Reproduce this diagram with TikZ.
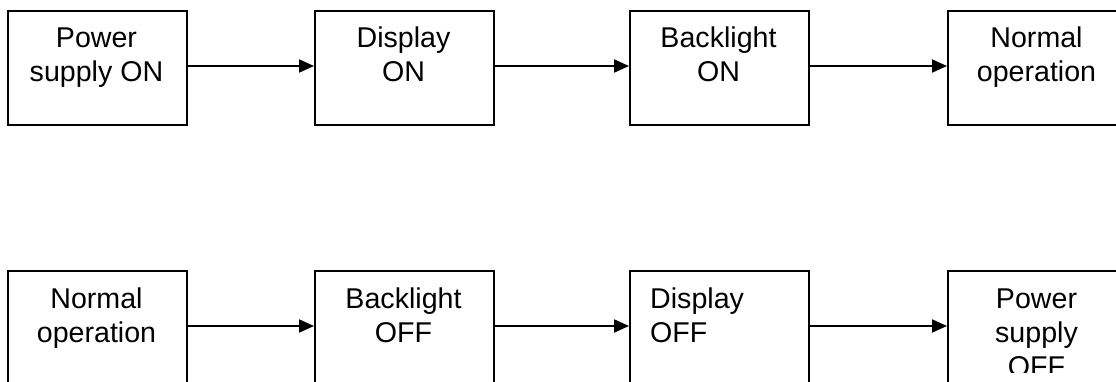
\documentclass[tikz,border=0pt]{standalone}
\usepackage{fontspec}
\setmainfont{Liberation Sans}
\usetikzlibrary{arrows.meta}
\begin{document}
\begin{tikzpicture}[x=1pt,y=-1pt,
  box/.style={draw,line width=2pt,minimum width=179pt,minimum height=114pt,inner sep=0pt,anchor=north west},
  lbl/.style={align=center,font=\fontsize{28.6}{34}\selectfont,inner sep=0pt,anchor=base},
  lbll/.style={align=left,font=\fontsize{28.6}{34}\selectfont,inner sep=0pt,anchor=base west},
  flow/.style={line width=2pt,-{Triangle[length=15pt,width=13pt]}}]
\useasboundingbox (0,0) rectangle (1116,382);
\clip (0,0) rectangle (1116,382);
% row 1
\node[box] (a1) at (7,10) {};
\node[box] (a2) at (314,10) {};
\node[box] (a3) at (629,10) {};
\node[box] (a4) at (947,10) {};
\node[lbl] (ta1) at (96.5,82) {Power\\supply ON};
\node[lbl] (ta2) at (403.5,82) {Display\\ON};
\node[lbl] (ta3) at (718.5,82) {Backlight\\ON};
\node[lbl] (ta4) at (1036.5,82) {Normal\\operation};
\draw[flow] ([yshift=2pt]a1.east) -- ([yshift=2pt]a2.west);
\draw[flow] ([yshift=2pt]a2.east) -- ([yshift=2pt]a3.west);
\draw[flow] ([yshift=2pt]a3.east) -- ([yshift=2pt]a4.west);
% row 2
\node[box] (b1) at (7,270) {};
\node[box] (b2) at (314,270) {};
\node[box] (b3) at (629,270) {};
\node[box] (b4) at (947,270) {};
\node[lbl] (tb1) at (96.5,342) {Normal\\operation};
\node[lbl] (tb2) at (403.5,342) {Backlight\\OFF};
\node[lbll] (tb3) at (650,342) {Display\\OFF};
\begin{scope}
\clip (940,255) rectangle (1116,372);
\node[lbl] (tb4) at (1036.5,376) {Power\\supply\\OFF};
\end{scope}
\draw[flow] ([yshift=2pt]b1.east) -- ([yshift=2pt]b2.west);
\draw[flow] ([yshift=2pt]b2.east) -- ([yshift=2pt]b3.west);
\draw[flow] ([yshift=2pt]b3.east) -- ([yshift=2pt]b4.west);
\end{tikzpicture}
\end{document}
